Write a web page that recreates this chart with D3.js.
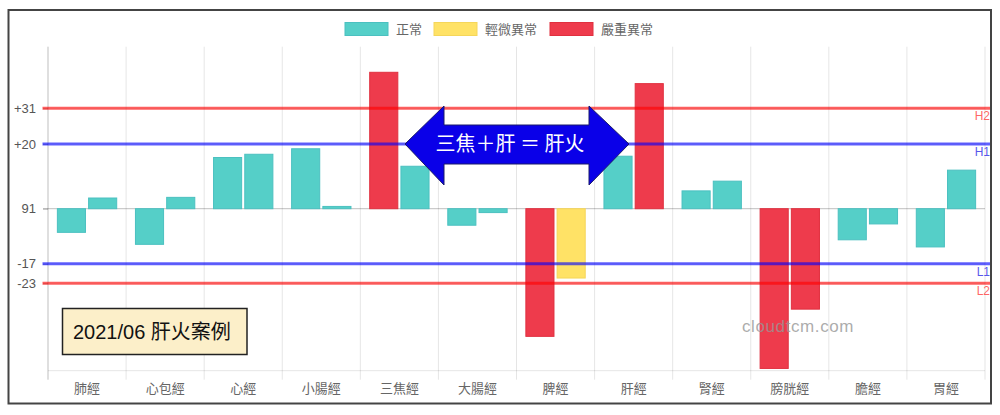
<!DOCTYPE html>
<html><head><meta charset="utf-8">
<script src="https://cdn.jsdelivr.net/npm/d3@7"></script>
<style>
html,body{margin:0;padding:0;background:#fff;}
svg{display:block;}
</style></head>
<body>
<svg id="c" width="1000" height="415"></svg>
<script>
const categories = ["肺經","心包經","心經","小腸經","三焦經","大腸經","脾經","肝經","腎經","膀胱經","膽經","胃經"];
const seriesA = [-7.3, -11, 15.8, 18.5, 42.1, -5.1, -39.4, 16.2, 5.5, -49.3, -9.6, -11.8];
const seriesB = [3.3, 3.5, 16.8, 0.7, 13.1, -1.2, -21.4, 38.6, 8.5, -31, -4.7, 11.9];
const statusA = ["n","n","n","n","s","n","s","n","n","s","n","n"];
const statusB = ["n","n","n","n","n","n","m","s","n","s","n","n"];
const legendLabels = ["正常","輕微異常","嚴重異常"];
const tickValues = [31, 20, 0, -17, -23];
const tickLabels = ["+31","+20","91","-17","-23"];
const refLines = [
  {name:"H2", value:31, kind:"r"},
  {name:"H1", value:20, kind:"b"},
  {name:"L1", value:-17, kind:"b"},
  {name:"L2", value:-23, kind:"r"}
];
const arrowText = "三焦＋肝 ＝ 肝火";
const boxText = "2021/06 肝火案例";
const watermark = "cloudtcm.com";

const colors = {n:"#55cfc8", m:"#ffe266", s:"#ee3b4c"};
const borders = {n:"#4bc0c0", m:"#f5d65a", s:"#e0303f"};
const legendKeys = ["n","m","s"];
const lineColors = {r:"rgba(255,0,0,0.62)", b:"rgba(0,0,255,0.62)"};
const labelColors = {r:"rgba(255,60,60,0.8)", b:"rgba(40,40,230,0.8)"};

const svg = d3.select("#c");
const L = 48, R = 985, T = 46.7, B = 370.7;
const x = d3.scaleBand().domain(categories).range([L, R]).padding(0);
const y = d3.scaleLinear().domain([-50, 50]).range([B, T]);
const sans = "'Liberation Sans', Arial, sans-serif";
const cjk = "'Noto Sans CJK TC', 'Noto Sans CJK SC', sans-serif";
const mixed = "'Liberation Sans', Arial, 'Noto Sans CJK TC', sans-serif";

// frame
svg.append("rect").attr("x",8.5).attr("y",10).attr("width",982.5).attr("height",393.5)
  .attr("fill","#fff").attr("stroke","#444").attr("stroke-width",2);

// vertical grid
const bounds = categories.map(c => x(c)).concat([R]);
svg.append("g").selectAll("line").data(bounds).join("line")
  .attr("x1", d => d).attr("x2", d => d).attr("y1", T).attr("y2", B + 9)
  .attr("stroke", (d,i) => i === 0 ? "rgba(0,0,0,0.25)" : "rgba(0,0,0,0.1)").attr("stroke-width",1);

// horizontal grid at ticks + bottom
svg.append("g").selectAll("line").data(tickValues).join("line")
  .attr("x1", L - 5).attr("x2", R).attr("y1", d => y(d)).attr("y2", d => y(d))
  .attr("stroke", d => d === 0 ? "rgba(0,0,0,0.25)" : "rgba(0,0,0,0.1)").attr("stroke-width",1);
svg.append("line").attr("x1",L).attr("x2",R).attr("y1",B).attr("y2",B).attr("stroke","rgba(0,0,0,0.1)");

// y axis
const yAxis = d3.axisLeft(y).tickValues(tickValues).tickFormat((d,i) => tickLabels[i]).tickSize(5).tickPadding(7);
const gy = svg.append("g").attr("transform",`translate(${L},0)`).call(yAxis);
gy.select(".domain").remove();
gy.selectAll(".tick line").attr("stroke","rgba(0,0,0,0.25)");
gy.selectAll("text").attr("font-family",sans).attr("font-size",13).attr("fill","#555");

// x axis labels
const xAxis = d3.axisBottom(x).tickSize(0).tickPadding(13);
const gx = svg.append("g").attr("transform",`translate(0,${B})`).call(xAxis);
gx.select(".domain").remove();
gx.selectAll("text").attr("font-family",cjk).attr("font-size",13).attr("fill","#666");

// bars
const groupW = x.bandwidth() * 0.8;
const slot = groupW / 2;
const barW = slot * 0.9;
function drawBars(vals, stat, idx) {
  svg.append("g").selectAll("rect").data(vals).join("rect")
    .attr("x", (d,i) => x(categories[i]) + x.bandwidth()*0.1 + idx*slot + (slot-barW)/2)
    .attr("width", barW)
    .attr("y", d => Math.min(y(d), y(0)))
    .attr("height", d => Math.abs(y(d) - y(0)))
    .attr("fill", (d,i) => colors[stat[i]])
    .attr("stroke", (d,i) => borders[stat[i]]).attr("stroke-width",1);
}
drawBars(seriesA, statusA, 0);
drawBars(seriesB, statusB, 1);

// reference lines
svg.append("g").selectAll("line").data(refLines).join("line")
  .attr("x1", L - 5.5).attr("x2", 990).attr("y1", d => y(d.value)).attr("y2", d => y(d.value))
  .attr("stroke", d => lineColors[d.kind]).attr("stroke-width",3);
svg.append("g").selectAll("text").data(refLines).join("text")
  .attr("x", 990).attr("y", d => y(d.value) + 12).attr("text-anchor","end")
  .attr("font-family",sans).attr("font-size",12).attr("fill", d => labelColors[d.kind])
  .text(d => d.name);

// legend
const legX = [345, 434, 550];
const lg = svg.append("g");
legendLabels.forEach((t,i) => {
  lg.append("rect").attr("x",legX[i]).attr("y",22.5).attr("width",43).attr("height",13)
    .attr("fill",colors[legendKeys[i]]).attr("stroke",borders[legendKeys[i]]).attr("stroke-width",1);
  lg.append("text").attr("x",legX[i]+51).attr("y",33.5).attr("font-family",cjk).attr("font-size",13)
    .attr("fill","#666").text(t);
});

// double arrow
const ax0 = 405, ax1 = 629, ay = 144, hb0 = 444, hb1 = 589, hy0 = 106, hy1 = 185, by0 = 125, by1 = 164;
svg.append("path")
  .attr("d", `M${ax0},${ay} L${hb0},${hy0} L${hb0},${by0} L${hb1},${by0} L${hb1},${hy0} L${ax1},${ay} L${hb1},${hy1} L${hb1},${by1} L${hb0},${by1} L${hb0},${hy1} Z`)
  .attr("fill","#0a00e8").attr("stroke","#1a1a6a").attr("stroke-width",1);
svg.append("text").attr("x",510).attr("y",ay+7).attr("text-anchor","middle")
  .attr("font-family",cjk).attr("font-size",20).attr("fill","#fff").text(arrowText);

// note box
svg.append("rect").attr("x",62.5).attr("y",308.5).attr("width",184.5).attr("height",46)
  .attr("fill","#fcefc9").attr("stroke","#222").attr("stroke-width",1.5);
svg.append("text").attr("x",73).attr("y",339).attr("font-family",mixed).attr("font-size",20)
  .attr("fill","#111").text(boxText);

// watermark
svg.append("text").attr("x",742).attr("y",332).attr("font-family",sans).attr("font-size",17)
  .attr("fill","rgba(150,150,150,0.8)").attr("letter-spacing",0.6).text(watermark);
</script>
</body></html>
